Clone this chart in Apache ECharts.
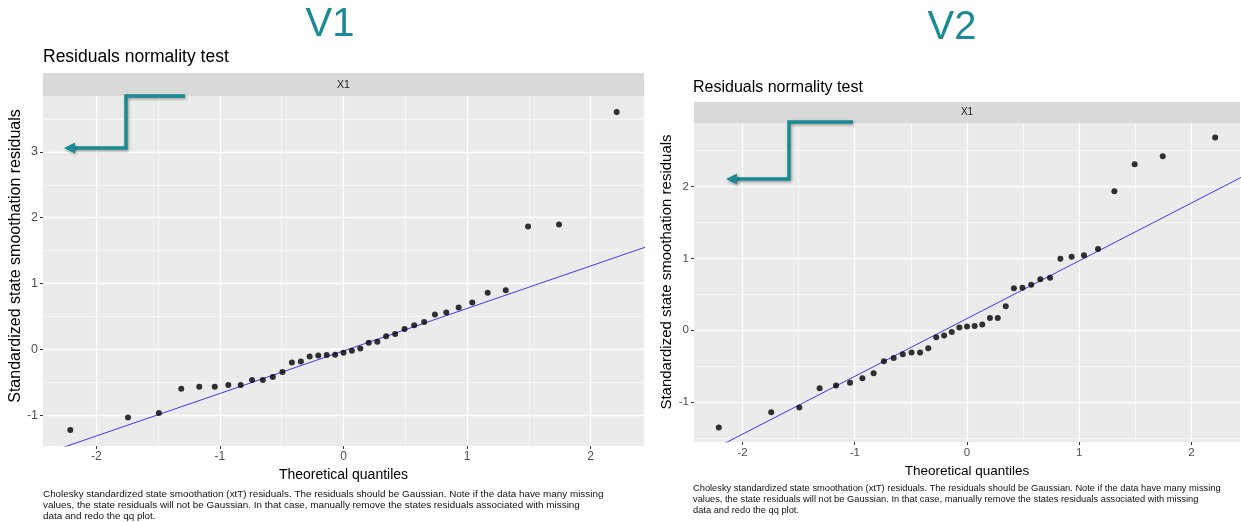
<!DOCTYPE html>
<html>
<head>
<meta charset="utf-8">
<script src="https://cdn.jsdelivr.net/npm/echarts@6/dist/echarts.min.js"></script>
<style>html,body{margin:0;padding:0;background:#fff;}#c{width:1241px;height:522px;}</style>
</head>
<body>
<div id="c"></div>
<script>
// Theoretical normal quantiles (37 observations), read from the x positions of the points
const theoreticalQuantiles = [-2.211,-1.744,-1.494,-1.313,-1.167,-1.042,-0.932,-0.832,-0.740,-0.653,-0.572,-0.494,-0.418,-0.345,-0.274,-0.204,-0.136,-0.068,0,0.068,0.136,0.204,0.274,0.345,0.418,0.494,0.572,0.653,0.740,0.832,0.932,1.042,1.167,1.313,1.494,1.744,2.211];
// Standardized residuals, V1
const residualsV1 = [-1.224,-1.032,-0.966,-0.597,-0.567,-0.567,-0.541,-0.541,-0.465,-0.465,-0.420,-0.344,-0.197,-0.182,-0.106,-0.091,-0.086,-0.081,-0.051,-0.020,0.015,0.101,0.116,0.202,0.233,0.309,0.369,0.415,0.531,0.561,0.637,0.713,0.860,0.900,1.866,1.897,3.606];
// Standardized residuals, V2
const residualsV2 = [-1.352,-1.139,-1.074,-0.806,-0.769,-0.731,-0.667,-0.597,-0.431,-0.384,-0.333,-0.310,-0.310,-0.250,-0.097,-0.074,-0.023,0.037,0.051,0.060,0.079,0.171,0.171,0.333,0.583,0.593,0.634,0.708,0.731,0.995,1.023,1.042,1.130,1.935,2.310,2.421,2.681];
// Reference (qq) line end points
const qqLineV1 = [[-2.5,-1.636],[2.5,1.590]];
const qqLineV2 = [[-2.5,-1.847],[2.5,2.173]];
// Axis ranges and tick labels
const xRange = [-2.432, 2.432];
const yRangeV1 = [-1.466, 3.848];
const yRangeV2 = [-1.554, 2.883];
const xTicks = [-2,-1,0,1,2];
const xMinor = [-1.5,-0.5,0.5,1.5];
const yTicksV1 = [-1,0,1,2,3];
const yMinorV1 = [-0.5,0.5,1.5,2.5,3.5];
const yTicksV2 = [-1,0,1,2];
const yMinorV2 = [-1.5,-0.5,0.5,1.5,2.5];
// Texts
const headings = ['V1','V2'];
const plotTitle = 'Residuals normality test';
const stripLabel = 'X1';
const xTitle = 'Theoretical quantiles';
const yTitle = 'Standardized state smoothation residuals';
const captionLines = [
  'Cholesky standardized state smoothation (xtT) residuals. The residuals should be Gaussian. Note if the data have many missing',
  'values, the state residuals will not be Gaussian. In that case, manually remove the states residuals associated with missing',
  'data and redo the qq plot.'
];

const FONT = '"Liberation Sans", Arial, sans-serif';
const TEAL = '#1a8b95';

function pairs(xs, ys){ return xs.map((x,i)=>[x, ys[i]]); }

function majorX(gi, fs, gap, nfs){
  return {type:'value', gridIndex:gi, min:xRange[0], max:xRange[1], position:'bottom',
    axisLine:{show:false, onZero:false},
    axisTick:{show:true, length:3, customValues:xTicks, lineStyle:{color:'#333', width:1}},
    axisLabel:{customValues:xTicks, color:'#4d4d4d', fontSize:fs, margin:5, fontFamily:FONT},
    splitLine:{show:true, lineStyle:{color:'#ffffff', width:1.3}},
    name:xTitle, nameLocation:'middle', nameGap:gap,
    nameTextStyle:{color:'#000', fontSize:nfs, fontFamily:FONT}};
}
function minorX(gi){
  return {type:'value', gridIndex:gi, min:xRange[0], max:xRange[1], position:'top',
    axisLine:{show:false, onZero:false}, axisTick:{show:false, customValues:xMinor}, axisLabel:{show:false},
    splitLine:{show:true, lineStyle:{color:'#ffffff', width:0.6}}};
}
function majorY(gi, range, ticks, fs){
  return {type:'value', gridIndex:gi, min:range[0], max:range[1], position:'left',
    axisLine:{show:false, onZero:false},
    axisTick:{show:true, length:3, customValues:ticks, lineStyle:{color:'#333', width:1}},
    axisLabel:{customValues:ticks, color:'#4d4d4d', fontSize:fs, margin:5, fontFamily:FONT},
    splitLine:{show:true, lineStyle:{color:'#ffffff', width:1.3}}};
}
function minorY(gi, range, ticks){
  return {type:'value', gridIndex:gi, min:range[0], max:range[1], position:'right',
    axisLine:{show:false, onZero:false}, axisTick:{show:false, customValues:ticks}, axisLabel:{show:false},
    splitLine:{show:true, lineStyle:{color:'#ffffff', width:0.6}}};
}

const grids = [
  {left:43, top:96, width:601, height:350},
  {left:694, top:123, width:546, height:319}
];

function arrow(pts, head){
  return [
    {type:'polyline', z:100, shape:{points:pts}, style:{stroke:TEAL, lineWidth:3.5, fill:null,
      shadowBlur:3, shadowColor:'rgba(0,0,0,0.35)', shadowOffsetX:1, shadowOffsetY:1.5}},
    {type:'polygon', z:100, shape:{points:head}, style:{fill:TEAL,
      shadowBlur:3, shadowColor:'rgba(0,0,0,0.35)', shadowOffsetX:1, shadowOffsetY:1.5}}
  ];
}

const graphics = [
  // panel backgrounds
  {type:'rect', z:-10, shape:{x:grids[0].left, y:grids[0].top, width:grids[0].width, height:grids[0].height}, style:{fill:'#ebebeb'}},
  {type:'rect', z:-10, shape:{x:grids[1].left, y:grids[1].top, width:grids[1].width, height:grids[1].height}, style:{fill:'#ebebeb'}},
  // strips
  {type:'rect', shape:{x:43, y:73, width:601, height:23}, style:{fill:'#d9d9d9'}},
  {type:'text', x:343.5, y:85, style:{text:stripLabel, fill:'#1a1a1a', fontSize:10.5, fontFamily:FONT, align:'center', verticalAlign:'middle'}},
  {type:'rect', shape:{x:694, y:102, width:546, height:21}, style:{fill:'#d9d9d9'}},
  {type:'text', x:967, y:112.5, style:{text:stripLabel, fill:'#1a1a1a', fontSize:10, fontFamily:FONT, align:'center', verticalAlign:'middle'}},
  // headings
  {type:'text', x:330, y:25, style:{text:headings[0], fill:TEAL, fontSize:40, fontFamily:FONT, align:'center', verticalAlign:'middle'}},
  {type:'text', x:952, y:28, style:{text:headings[1], fill:TEAL, fontSize:40, fontFamily:FONT, align:'center', verticalAlign:'middle'}},
  // plot titles
  {type:'text', x:43, y:57, style:{text:plotTitle, fill:'#000', fontSize:17.5, fontFamily:FONT, align:'left', verticalAlign:'middle'}},
  {type:'text', x:693, y:88, style:{text:plotTitle, fill:'#000', fontSize:16, fontFamily:FONT, align:'left', verticalAlign:'middle'}},
  // y axis titles (centred on strip + panel as in ggplot facets)
  {type:'text', x:16, y:256, rotation:Math.PI/2, style:{text:yTitle, fill:'#000', fontSize:16, fontFamily:FONT, align:'center', verticalAlign:'middle'}},
  {type:'text', x:667, y:272, rotation:Math.PI/2, style:{text:yTitle, fill:'#000', fontSize:15, fontFamily:FONT, align:'center', verticalAlign:'middle'}}
];
captionLines.forEach((t,i)=>{
  graphics.push({type:'text', x:43, y:494+i*11, style:{text:t, fill:'#111', fontSize:9.9, fontFamily:FONT, align:'left', verticalAlign:'middle'}});
  graphics.push({type:'text', x:693, y:488+i*11, style:{text:t, fill:'#111', fontSize:9.3, fontFamily:FONT, align:'left', verticalAlign:'middle'}});
});
graphics.push(...arrow([[185,96],[126,96],[126,148],[73,148]], [[64,148],[75,142.5],[75,153.5]]));
graphics.push(...arrow([[853,122],[789,122],[789,179],[735,179]], [[726,179],[737,173.5],[737,184.5]]));

const chart = echarts.init(document.getElementById('c'), null, {renderer:'canvas'});
chart.setOption({
  animation:false,
  backgroundColor:'#fff',
  textStyle:{fontFamily:FONT},
  grid:grids,
  xAxis:[majorX(0,12,15,14), minorX(0), majorX(1,11.5,15,13.5), minorX(1)],
  yAxis:[majorY(0,yRangeV1,yTicksV1,12.5), minorY(0,yRangeV1,yMinorV1), majorY(1,yRangeV2,yTicksV2,11.5), minorY(1,yRangeV2,yMinorV2)],
  graphic:graphics,
  series:[
    {type:'line', xAxisIndex:0, yAxisIndex:0, data:qqLineV1, symbol:'none', clip:true, lineStyle:{color:'#3b3bf0', width:1}, z:3},
    {type:'scatter', xAxisIndex:0, yAxisIndex:0, data:pairs(theoreticalQuantiles, residualsV1), symbolSize:6, itemStyle:{color:'#000'}, z:4},
    {type:'line', xAxisIndex:2, yAxisIndex:2, data:qqLineV2, symbol:'none', clip:true, lineStyle:{color:'#3b3bf0', width:1}, z:3},
    {type:'scatter', xAxisIndex:2, yAxisIndex:2, data:pairs(theoreticalQuantiles, residualsV2), symbolSize:6, itemStyle:{color:'#000'}, z:4}
  ]
});
</script>
</body>
</html>
